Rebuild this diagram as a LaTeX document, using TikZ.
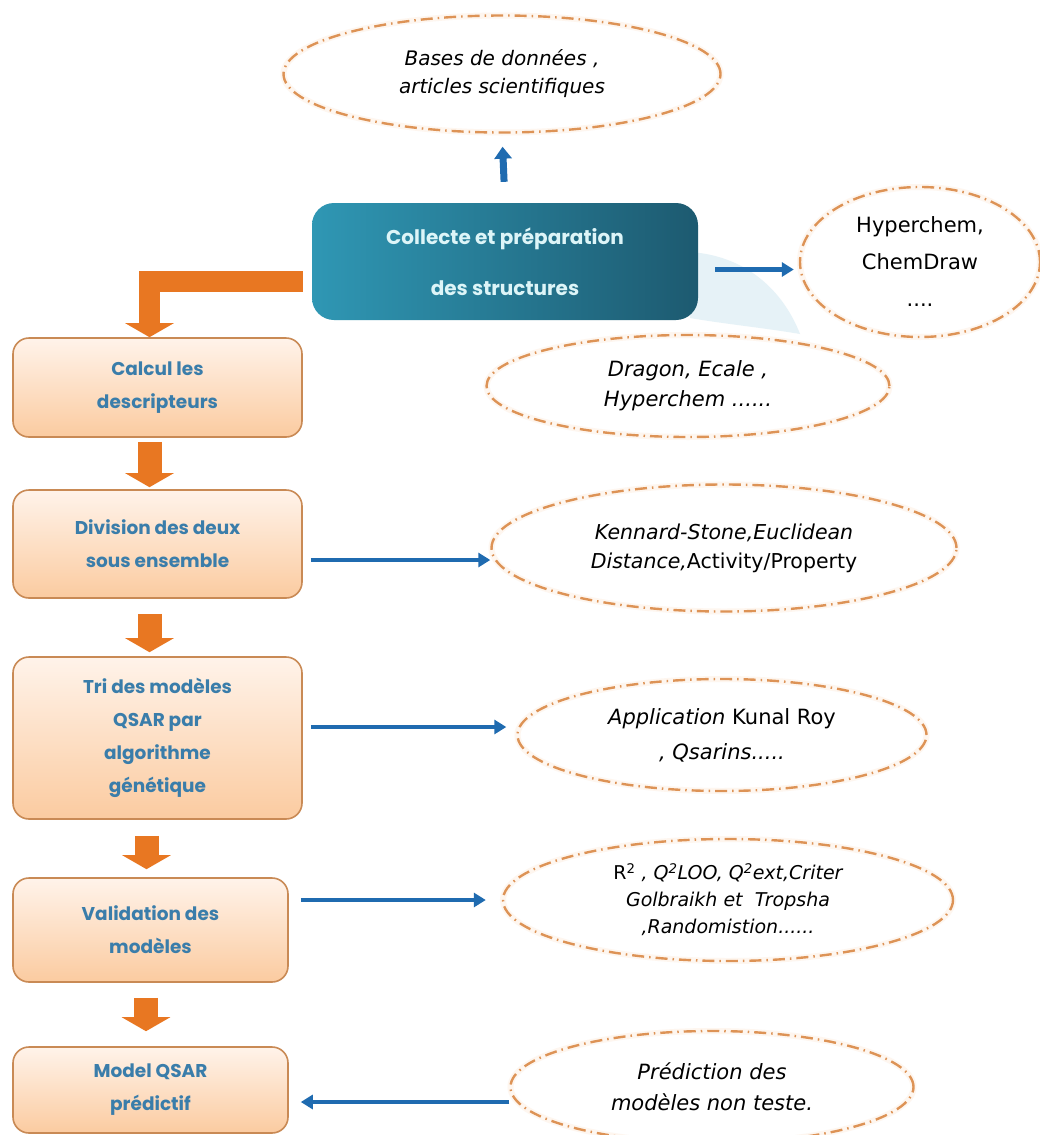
\documentclass[tikz,border=0pt]{standalone}
\usepackage{fontspec}
\setmainfont{DejaVu Sans}
\newfontfamily\boxfont{Poppins}
\newfontfamily\ellfont{DejaVu Sans}
\usetikzlibrary{shapes.geometric,arrows.meta}
\definecolor{orarrow}{HTML}{E87722}
\definecolor{blarrow}{HTML}{1F6BB0}
\definecolor{boxtext}{HTML}{3A7DAA}
\definecolor{boxdraw}{HTML}{C98A55}
\definecolor{boxtop}{HTML}{FFF3EA}
\definecolor{boxbot}{HTML}{FBCBA0}
\definecolor{ellline}{HTML}{DD9356}
\definecolor{ellglow}{HTML}{FEF6EF}
\definecolor{tealA}{HTML}{2F97B4}
\definecolor{tealB}{HTML}{1D5A70}
\definecolor{tealtext}{HTML}{DDF5F8}
\definecolor{swoosh}{HTML}{E6F2F7}
\begin{document}
\begin{tikzpicture}[x=1pt,y=-1pt,
 stepbox/.style={draw=boxdraw, line width=1.6pt, rounded corners=16pt,
   top color=boxtop, bottom color=boxbot, text=boxtext,
   font=\boxfont\bfseries\fontsize{18.5}{33}\selectfont, align=center, inner sep=0pt},
 tool/.style={ellipse, draw=ellline, line width=2.4pt,
   dash pattern=on 12pt off 5pt on 1.5pt off 5pt, align=center, inner sep=0pt,
   font=\ellfont\itshape\fontsize{21}{30}\selectfont,
   preaction={draw=ellglow, line width=6pt, solid}},
 bigarrow/.style={draw=orarrow, line width=24pt, -{Triangle[width=48pt,length=14pt]}},
 bluearrow/.style={draw=blarrow, line width=4.5pt, -{Triangle[width=14pt,length=12pt]}},
]
\useasboundingbox[fill=white] (0,0) rectangle (1040,1135);

% light swoosh behind the teal box
\fill[swoosh] (690,252) .. controls (750,256) and (785,295) .. (800,334)
  .. controls (765,328) and (725,324) .. (690,318) -- cycle;

% main teal box
\node[rounded corners=22pt, left color=tealA, right color=tealB,
  minimum width=386pt, minimum height=117pt, text=tealtext, inner sep=0pt,
  font=\boxfont\bfseries\fontsize{20}{51}\selectfont, align=center] (col) at (505,261.5)
  {Collecte et préparation\\des structures};

% step boxes
\node[stepbox, minimum width=289pt, minimum height=99pt] (calc) at (157.5,387.5)
  {Calcul les\\descripteurs};
\node[stepbox, minimum width=289pt, minimum height=108pt] (div) at (157.5,544)
  {Division des deux\\sous ensemble};
\node[stepbox, minimum width=289pt, minimum height=162pt] (tri) at (157.5,738)
  {Tri des modèles\\QSAR par\\algorithme\\génétique};
\node[stepbox, minimum width=275pt, minimum height=104pt] (val) at (150.5,930)
  {Validation des\\modèles};
\node[stepbox, minimum width=275pt, minimum height=86pt] (mod) at (150.5,1090)
  {Model QSAR\\prédictif};

% tool ellipses
\node[tool, minimum width=437pt, minimum height=117pt,
  font=\ellfont\itshape\fontsize{20}{28}\selectfont] (db) at (502,74)
  {Bases de données ,\\articles scientifiques};
\node[tool, minimum width=240pt, minimum height=150pt,
  font=\ellfont\fontsize{21}{37}\selectfont] (hyp) at (920,262)
  {Hyperchem,\\ChemDraw\\....};
\node[tool, minimum width=403pt, minimum height=102pt] (drag) at (688,386)
  {Dragon, Ecale ,\\Hyperchem ......};
\node[tool, minimum width=465pt, minimum height=127pt,
  font=\ellfont\itshape\fontsize{20.5}{29}\selectfont] (ken) at (724,548)
  {Kennard-Stone,Euclidean\\Distance,{\upshape Activity/Property}};
\node[tool, minimum width=409pt, minimum height=112pt,
  font=\ellfont\itshape\fontsize{21}{35}\selectfont] (app) at (722,735)
  {Application {\upshape Kunal Roy}\\, Qsarins.....};
\node[tool, minimum width=450pt, minimum height=122pt,
  font=\ellfont\itshape\fontsize{19}{27}\selectfont] (r2) at (728,900)
  {{\upshape R\textsuperscript{2}} , Q\textsuperscript{2}LOO, Q\textsuperscript{2}ext,Criter\\Golbraikh et~~Tropsha\\,Randomistion......};
\node[tool, minimum width=403pt, minimum height=112pt,
  font=\ellfont\itshape\fontsize{21}{31}\selectfont] (pred) at (712,1087)
  {Prédiction des\\modèles non teste.};

% blue arrows
\draw[draw=blarrow, line width=7pt, -{Triangle[width=17pt,length=12pt]},
  shorten <=21pt, shorten >=13pt] (col.north) -- (db.south);
\draw[bluearrow, shorten <=17pt, shorten >=5pt]
  ([yshift=-8pt]col.east) -- ([yshift=-8pt]col.east -| hyp.west);
\draw[bluearrow, shorten <=8pt]
  ([yshift=-16pt]div.east) -- ([yshift=-16pt]div.east -| ken.west);
\draw[bluearrow, shorten <=8pt, shorten >=10pt]
  ([yshift=11pt]tri.east) -- ([yshift=11pt]tri.east -| app.west);
\draw[bluearrow, shorten <=12pt, shorten >=16pt]
  ([yshift=30pt]val.east) -- ([yshift=30pt]val.east -| r2.west);
\draw[bluearrow, shorten >=12pt]
  ([yshift=-15pt]pred.west) -- ([yshift=-15pt]pred.west -| mod.east);

% orange arrows
\draw[bigarrow, line width=21pt, shorten <=9pt]
  ([yshift=-19.5pt]col.west) -| ([xshift=-8pt]calc.north);
\draw[bigarrow, shorten <=4pt, shorten >=2pt]
  ([xshift=-8pt]calc.south) -- ([xshift=-8pt]div.north);
\draw[bigarrow, shorten <=15pt, shorten >=4pt]
  ([xshift=-8pt]div.south) -- ([xshift=-8pt]tri.north);
\draw[bigarrow, shorten <=16pt, shorten >=8pt]
  ([xshift=-11pt]tri.south) -- ([xshift=-11pt]tri.south |- val.north);
\draw[bigarrow, shorten <=15pt, shorten >=15pt]
  ([xshift=-4.5pt]val.south) -- ([xshift=-4.5pt]mod.north);
\end{tikzpicture}
\end{document}
